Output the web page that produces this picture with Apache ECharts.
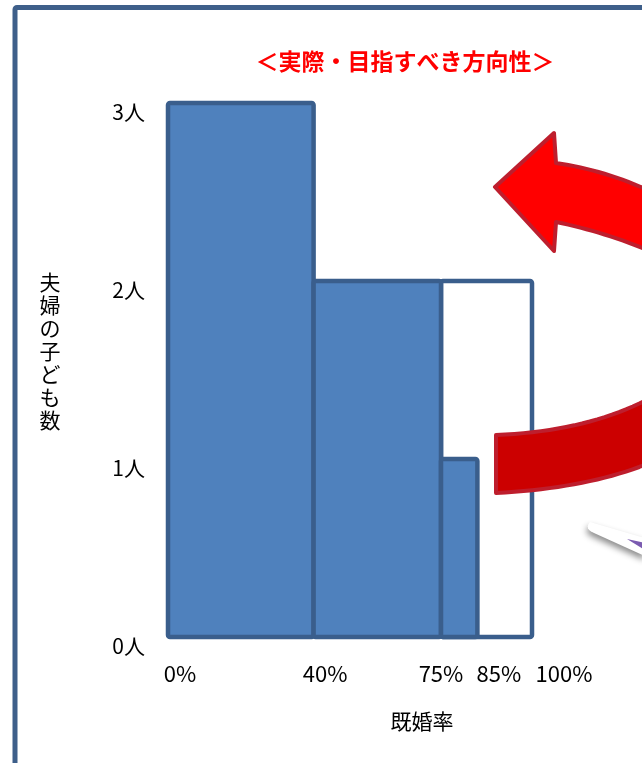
<!DOCTYPE html>
<html>
<head>
<meta charset="utf-8">
<script src="https://cdn.jsdelivr.net/npm/echarts@6/dist/echarts.min.js"></script>
<style>
html,body{margin:0;padding:0;background:#fff;}
#c{width:642px;height:763px;}
</style>
</head>
<body>
<div id="c"></div>
<script>
// ---- data ----
const titleText = '＜実際・目指すべき方向性＞';
const xName = '既婚率';
const yName = '夫婦の子ども数';
// actual (filled) bars: marriage-rate range and number of children
const actualStart = [0, 40, 75];
const actualEnd = [40, 75, 85];
const actualChildren = [3, 2, 1];
// target (outlined) bar
const targetStart = [75];
const targetEnd = [100];
const targetChildren = [2];
// tick labels
const xTickValues = [0, 40, 75, 85, 100];
const xTickLabels = ['0%', '40%', '75%', '85%', '100%'];
const yTickValues = [0, 1, 2, 3];
const yTickLabels = ['0人', '1人', '2人', '3人'];

const FONT = '"Noto Sans CJK JP", "Noto Sans", sans-serif';
const chart = echarts.init(document.getElementById('c'), null, {renderer: 'canvas'});

const actualData = actualStart.map((s, i) => [s, actualEnd[i], actualChildren[i]]);
const targetData = targetStart.map((s, i) => [s, targetEnd[i], targetChildren[i]]);

function rectRenderer(fill) {
  return function (params, api) {
    const s = api.value(0), e = api.value(1), v = api.value(2);
    const p0 = api.coord([s, 0]);
    const p1 = api.coord([e, v]);
    return {
      type: 'rect',
      shape: {x: p0[0], y: p1[1], width: p1[0] - p0[0], height: p0[1] - p1[1], r: 2},
      style: {fill: fill, stroke: '#3A5E8C', lineWidth: 4.5, lineJoin: 'round'}
    };
  };
}

// decoration helpers: sample a quadratic curve into polygon points
function quad(p0, c, p1, n) {
  const out = [];
  for (let i = 0; i <= n; i++) {
    const t = i / n, u = 1 - t;
    out.push([u * u * p0[0] + 2 * u * t * c[0] + t * t * p1[0],
              u * u * p0[1] + 2 * u * t * c[1] + t * t * p1[1]]);
  }
  return out;
}

const upperArrow = [[495, 187], [554, 133], [556, 163]]
  .concat(quad([556, 163], [605, 170], [652, 192], 16))
  .concat(quad([652, 252], [605, 232], [556, 222], 16))
  .concat([[554, 251]]);
const lowerBand = quad([496, 435], [590, 431], [652, 397], 20)
  .concat(quad([652, 462], [590, 488], [496, 493], 20));
const shadowShape = [[590, 522]].concat(quad([590, 522], [584, 529], [594, 533], 6)).concat([[645, 556], [645, 538]]);

// per-label horizontal shifts (rich padding -> shift by pad/2)
const xPads = [24, 23, 0, 43, 64];
const rich = {};
xPads.forEach((p, i) => {
  rich['s' + i] = {fontSize: 22, fontFamily: FONT, color: '#000', padding: [0, 0, 0, p]};
});

const option = {
  backgroundColor: '#fff',
  animation: false,
  title: {
    text: titleText,
    left: 400,
    top: 45,
    textAlign: 'center',
    textStyle: {color: '#FF0000', fontSize: 23, fontWeight: 'bold', fontFamily: FONT}
  },
  grid: {left: 168, right: 110, top: 103, bottom: 126, containLabel: false},
  xAxis: {
    type: 'value',
    min: 0, max: 100, interval: 5,
    name: xName,
    nameLocation: 'middle',
    nameGap: 73,
    nameTextStyle: {fontSize: 21, fontFamily: FONT, color: '#000', align: 'center', lineHeight: 22, padding: [0, 0, 0, 144]},
    axisLine: {show: false},
    axisTick: {show: false},
    splitLine: {show: false},
    axisLabel: {
      margin: 26,
      fontSize: 22,
      fontFamily: FONT,
      color: '#000',
      rich: rich,
      formatter: function (v) {
        const i = xTickValues.indexOf(v);
        if (i < 0) return '';
        return '{s' + i + '|' + xTickLabels[i] + '}';
      }
    }
  },
  yAxis: {
    type: 'value',
    min: 0, max: 3, interval: 1,
    name: yName.split('').join('\n') + '\n{g| }',
    nameLocation: 'middle',
    nameRotate: 0,
    nameGap: 118,
    nameTextStyle: {
      fontSize: 21, fontFamily: FONT, color: '#000', align: 'center', verticalAlign: 'middle', lineHeight: 23,
      rich: {g: {lineHeight: 38, fontSize: 10}}
    },
    axisLine: {show: false},
    axisTick: {show: false},
    splitLine: {show: false},
    axisLabel: {
      margin: 23,
      fontSize: 21,
      fontFamily: FONT,
      color: '#000',
      verticalAlign: 'top',
      lineHeight: 19,
      formatter: function (v) {
        const i = yTickValues.indexOf(v);
        return i < 0 ? '' : yTickLabels[i];
      }
    }
  },
  series: [
    {
      type: 'custom',
      name: '目指すべき方向性',
      renderItem: rectRenderer('#FFFFFF'),
      encode: {x: [0, 1], y: 2},
      data: targetData,
      clip: false,
      z: 2
    },
    {
      type: 'custom',
      name: '実際',
      renderItem: rectRenderer('#4F81BD'),
      encode: {x: [0, 1], y: 2},
      data: actualData,
      clip: false,
      z: 3
    }
  ],
  graphic: [
    {
      type: 'rect', z: 100, silent: true,
      shape: {x: 15, y: 7.5, width: 700, height: 800, r: 2},
      style: {fill: 'none', stroke: '#3E5F8A', lineWidth: 5}
    },
    {
      type: 'polygon', z: 50, silent: true,
      shape: {points: upperArrow},
      style: {fill: '#FF0000', stroke: '#BE1E2D', lineWidth: 4, lineJoin: 'round'}
    },
    {
      type: 'polygon', z: 50, silent: true,
      shape: {points: lowerBand},
      style: {fill: '#CC0000', stroke: '#BE1E2D', lineWidth: 4, lineJoin: 'round'}
    },
    {
      type: 'polygon', z: 40, silent: true,
      shape: {points: shadowShape},
      style: {fill: '#FFFFFF', shadowColor: 'rgba(0,0,0,0.45)', shadowBlur: 6, shadowOffsetX: -1, shadowOffsetY: 4}
    },
    {
      type: 'polygon', z: 41, silent: true,
      shape: {points: [[627, 539], [645, 543], [645, 550]]},
      style: {fill: '#7B5BB0'}
    }
  ]
};
chart.setOption(option);
</script>
</body>
</html>
